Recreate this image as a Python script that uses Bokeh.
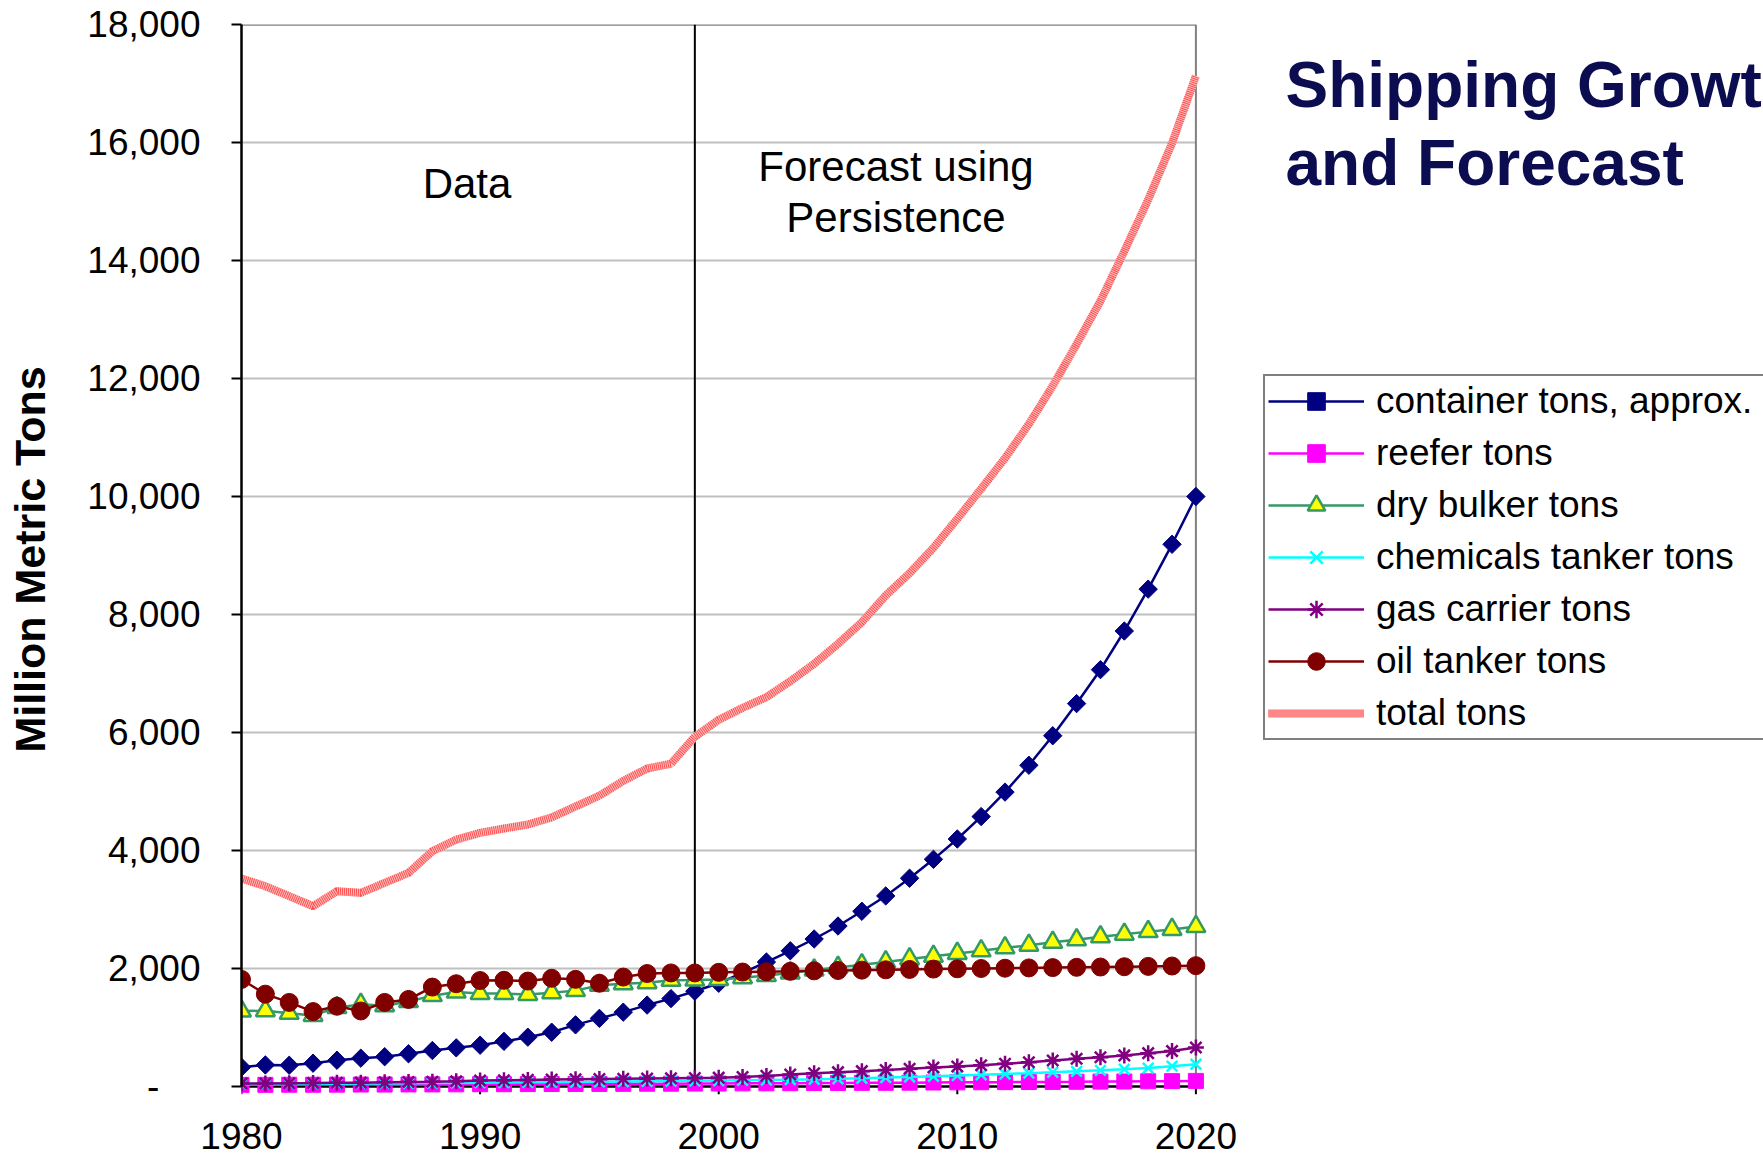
import math
from bokeh.plotting import figure
from bokeh.models import (Range1d, Label, Legend, LegendItem,
                          NumeralTickFormatter, FixedTicker)
from bokeh.embed import file_html
from bokeh.resources import INLINE

# ---------------- data ----------------
years = list(range(1980, 2021))

container_tons = [327, 365, 360, 395, 445, 480, 505, 555, 610, 655,
                  700, 765, 836, 920, 1045, 1155, 1260, 1380, 1490, 1615,
                  1750, 1925, 2110, 2300, 2500, 2720, 2970, 3230, 3530, 3850,
                  4195, 4575, 4990, 5445, 5945, 6490, 7065, 7720, 8430, 9190,
                  10000]
reefer_tons = [28, 28, 30, 30, 31, 33, 33, 35, 36, 37,
               39, 39, 41, 42, 43, 44, 45, 47, 48, 50,
               51, 53, 54, 56, 58, 60, 62, 63, 65, 68,
               70, 72, 74, 76, 78, 80, 83, 85, 88, 91, 95]
dry_bulker_tons = [1278, 1285, 1240, 1205, 1338, 1392, 1370, 1440, 1540, 1600,
                   1575, 1575, 1560, 1590, 1625, 1716, 1743, 1760, 1800, 1803,
                   1812, 1844, 1881, 1925, 1975, 2019, 2062, 2112, 2162, 2206,
                   2256, 2300, 2350, 2394, 2444, 2487, 2537, 2581, 2625, 2662,
                   2710]
chemicals_tanker_tons = [40, 42, 44, 46, 48, 50, 52, 55, 58, 61,
                         65, 68, 71, 74, 77, 80, 84, 88, 92, 96,
                         100, 105, 110, 116, 122, 130, 140, 151, 162, 174,
                         186, 199, 212, 226, 241, 257, 274, 292, 312, 345, 378]
gas_carrier_tons = [50, 52, 55, 58, 62, 65, 70, 75, 80, 88,
                    100, 106, 112, 117, 122, 127, 132, 137, 141, 145,
                    150, 160, 180, 203, 226, 243, 260, 280, 300, 322,
                    340, 360, 385, 412, 441, 469, 497, 527, 565, 600, 660]
oil_tanker_tons = [1815, 1565, 1425, 1270, 1360, 1280, 1425, 1475, 1685, 1742,
                   1796, 1800, 1787, 1834, 1816, 1750, 1855, 1915, 1925, 1925,
                   1935, 1940, 1945, 1952, 1960, 1966, 1972, 1978, 1984, 1990,
                   1995, 2000, 2005, 2010, 2015, 2020, 2025, 2030, 2036, 2042,
                   2048]
total_tons = [3525, 3395, 3226, 3056, 3310, 3282, 3452, 3621, 3988, 4186,
              4299, 4373, 4441, 4560, 4746, 4930, 5180, 5390, 5470, 5928,
              6215, 6418, 6599, 6870, 7164, 7503, 7870, 8322, 8701, 9131,
              9622, 10131, 10650, 11228, 11876, 12580, 13313, 14158, 15031, 15989,
              17130]

y_ticks = [0, 2000, 4000, 6000, 8000, 10000, 12000, 14000, 16000, 18000]
x_ticks = [1980, 1990, 2000, 2010, 2020]
x_min, x_max = 1980, 2020
y_min, y_max = 0, 18000
split_year = 1999

FONT = "Liberation Sans"

# ---------------- layout (pixels) ----------------
W, H = 1763, 1160
left_px, right_px = 241, 1195.4        # where 1980 / 2020 fall
top_px, bottom_px = 24, 1086           # where 18000 / 0 fall
frame_bottom_px = 1094                 # a little room below 0 for the markers
px_per_year = (right_px - left_px) / (x_max - x_min)
px_per_unit = (bottom_px - top_px) / (y_max - y_min)
x_end = x_max + (W - right_px) / px_per_year
y_start = y_min - (frame_bottom_px - bottom_px) / px_per_unit

def dx(px):
    return x_min + (px - left_px) / px_per_year

def dy(py):
    return (bottom_px - py) / px_per_unit

p = figure(width=W, height=H, output_backend="svg", toolbar_location=None,
           x_range=Range1d(x_min, x_end), y_range=Range1d(y_start, y_max),
           min_border_left=left_px, min_border_right=0,
           min_border_top=top_px, min_border_bottom=H - frame_bottom_px)
p.background_fill_color = "white"
p.border_fill_color = "white"
p.outline_line_color = None
p.grid.visible = False

# grid lines / frame borders limited to the chart area
grid_vals = y_ticks[1:-1]
p.segment(x0=[x_min] * len(grid_vals), y0=grid_vals, x1=[x_max] * len(grid_vals),
          y1=grid_vals, line_color="#c0c0c0", line_width=2, level="underlay")
p.segment(x0=[x_min], y0=[y_max], x1=[x_max], y1=[y_max],
          line_color="#808080", line_width=2.5, level="underlay")
p.segment(x0=[x_max], y0=[y_min], x1=[x_max], y1=[y_max],
          line_color="#808080", line_width=2, level="underlay")
# divider between data and forecast
p.segment(x0=[split_year], y0=[y_min], x1=[split_year], y1=[y_max],
          line_color="black", line_width=2, level="underlay")
# x axis line at zero with its tick marks
p.segment(x0=[x_min], y0=[y_min], x1=[x_max], y1=[y_min],
          line_color="black", line_width=2.5, level="underlay")
p.segment(x0=x_ticks, y0=[y_min] * len(x_ticks), x1=x_ticks,
          y1=[y_start] * len(x_ticks), line_color="black", line_width=2,
          level="underlay")

for ax in (p.xaxis[0], p.yaxis[0]):
    ax.axis_line_color = "black"
    ax.axis_line_width = 2.5
    ax.major_tick_line_color = "black"
    ax.major_tick_line_width = 2
    ax.major_tick_in = 0
    ax.minor_tick_line_color = None
    ax.major_label_text_font = FONT
    ax.major_label_text_font_size = "37px"
    ax.major_label_text_color = "black"

p.xaxis.ticker = FixedTicker(ticks=x_ticks)
p.xaxis.axis_line_color = None
p.xaxis.major_tick_line_color = None
p.xaxis.major_tick_out = 0
p.xaxis.major_label_standoff = 28

p.yaxis.bounds = (y_min, y_max)
p.yaxis.ticker = FixedTicker(ticks=y_ticks)
p.yaxis.formatter = NumeralTickFormatter(format="0,0")
p.yaxis.major_label_overrides = {0: "-\u2007\u2007"}
p.yaxis.major_tick_out = 10
p.yaxis.major_label_standoff = 31
p.yaxis.axis_label = "Million Metric Tons"
p.yaxis.axis_label_text_font = FONT
p.yaxis.axis_label_text_font_style = "bold"
p.yaxis.axis_label_text_font_size = "43px"
p.yaxis.axis_label_text_color = "black"
p.yaxis.axis_label_standoff = 30

# ---------------- series ----------------
items = []

r1l = p.line(years, container_tons, line_color="#000080", line_width=2.5)
r1m = p.scatter(years, container_tons, marker="square", angle=math.pi / 4, size=13,
                fill_color="#000080", line_color="#000080")
items.append(LegendItem(label="container tons, approx.", renderers=[r1l, r1m]))

r2l = p.line(years, reefer_tons, line_color="#ff00ff", line_width=2.5)
r2m = p.scatter(years, reefer_tons, marker="square", size=15,
                fill_color="#ff00ff", line_color="#ff00ff")
items.append(LegendItem(label="reefer tons", renderers=[r2l, r2m]))

r3l = p.line(years, dry_bulker_tons, line_color="#339966", line_width=2.5)
r3m = p.scatter(years, dry_bulker_tons, marker="triangle", size=19,
                fill_color="#ffff00", line_color="#339966", line_width=2.5)
items.append(LegendItem(label="dry bulker tons", renderers=[r3l, r3m]))

r4l = p.line(years, chemicals_tanker_tons, line_color="#00ffff", line_width=2.5)
r4m = p.scatter(years, chemicals_tanker_tons, marker="x", size=15,
                line_color="#00ffff", line_width=2.5)
items.append(LegendItem(label="chemicals tanker tons", renderers=[r4l, r4m]))

r5l = p.line(years, gas_carrier_tons, line_color="#800080", line_width=2.5)
r5m = p.scatter(years, gas_carrier_tons, marker="asterisk", size=16,
                line_color="#800080", line_width=2.5)
items.append(LegendItem(label="gas carrier tons", renderers=[r5l, r5m]))

r6l = p.line(years, oil_tanker_tons, line_color="#800000", line_width=2.5)
r6m = p.scatter(years, oil_tanker_tons, marker="circle", size=18,
                fill_color="#800000", line_color="#800000")
items.append(LegendItem(label="oil tanker tons", renderers=[r6l, r6m]))

r7a = p.line(years, total_tons, line_color="#ffc0c0", line_width=8)
r7b = p.line(years, total_tons, line_color="#ff4d4d", line_width=8, line_dash="1 1")
items.append(LegendItem(label="total tons", renderers=[r7a, r7b]))

legend = Legend(items=items, location=(1263 - left_px, frame_bottom_px - 740))
legend.label_text_font = FONT
legend.label_text_font_size = "37px"
legend.label_text_color = "black"
legend.border_line_color = "black"
legend.border_line_width = 2
legend.background_fill_color = "white"
legend.background_fill_alpha = 1
legend.glyph_width = 96
legend.glyph_height = 44
legend.label_height = 44
legend.label_width = 440
legend.spacing = 8
legend.padding = 3
legend.margin = 0
legend.label_standoff = 12
p.add_layout(legend)

# ---------------- annotations ----------------
def add_text(x, y, txt, size, align="center", bold=False, color="black"):
    p.add_layout(Label(x=x, y=y, text=txt, text_font=FONT, text_font_size=size,
                       text_align=align, text_baseline="alphabetic",
                       text_font_style="bold" if bold else "normal",
                       text_color=color))

add_text(dx(466.5), dy(183), "Data", "42px")
add_text(dx(895.5), dy(166), "Forecast using", "42px")
add_text(dx(895.5), dy(217), "Persistence", "42px")

add_text(dx(1285), dy(84), "Shipping Growth", "64px", align="left", bold=True, color="#0c0c50")
add_text(dx(1285), dy(162), "and Forecast", "64px", align="left", bold=True, color="#0c0c50")

open("out.html", "w").write(file_html(p, INLINE))
